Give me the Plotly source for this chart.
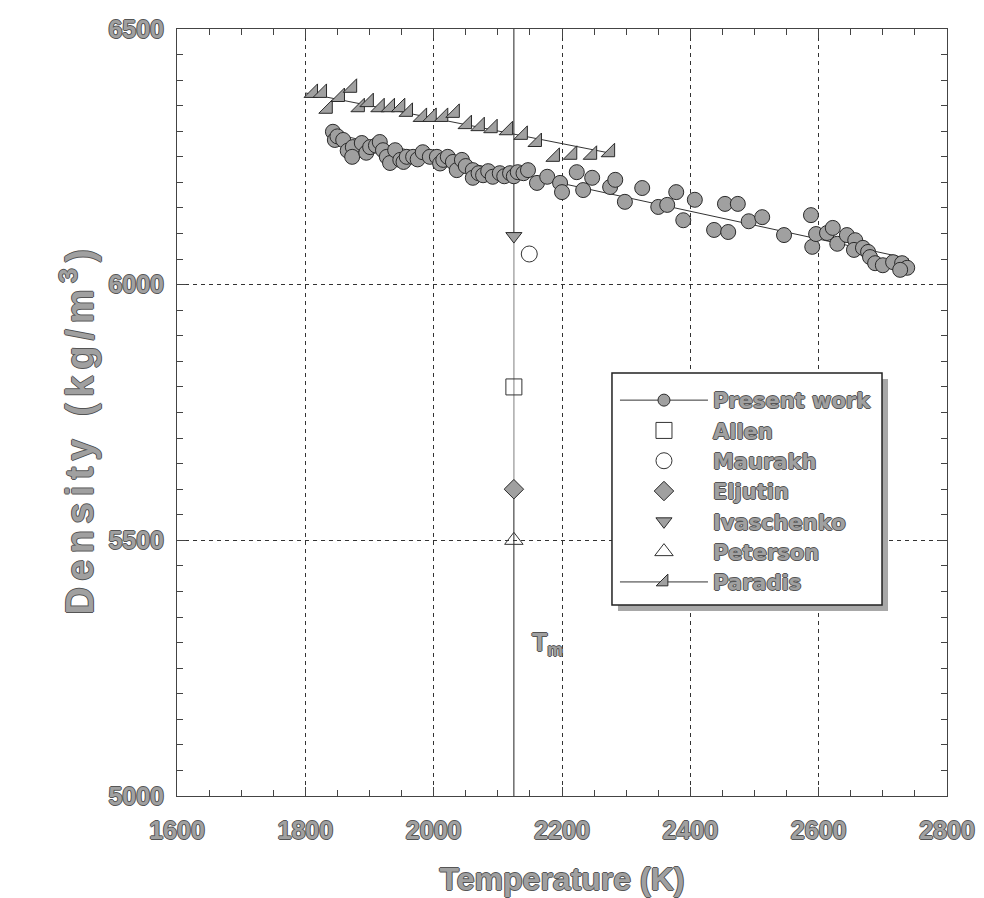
import plotly.graph_objects as go

# Liquid density versus temperature
present_T = [1843, 1846, 1850, 1859, 1866, 1874, 1873, 1888, 1895, 1901, 1910, 1916, 1921,
             1927, 1932, 1940, 1948, 1953, 1958, 1968, 1975, 1983, 1994, 2005, 2010, 2015,
             2022, 2030, 2036, 2044, 2050, 2061, 2061, 2070, 2077, 2085, 2092, 2103, 2110,
             2119, 2125, 2131, 2140, 2147, 2161, 2177, 2197, 2200, 2223, 2233, 2247, 2275,
             2283, 2298, 2325, 2350, 2364, 2378, 2389, 2407, 2437, 2454, 2459, 2474, 2491,
             2512, 2546, 2588, 2590, 2596, 2613, 2622, 2629, 2644, 2657, 2655, 2669, 2677,
             2680, 2688, 2700, 2716, 2730, 2738, 2727]
present_rho = [6299, 6283, 6290, 6283, 6262, 6269, 6250, 6277, 6258, 6269, 6272, 6279, 6263,
               6250, 6238, 6263, 6244, 6240, 6250, 6250, 6245, 6259, 6250, 6250, 6237, 6244,
               6250, 6240, 6224, 6244, 6232, 6224, 6209, 6218, 6214, 6222, 6211, 6218, 6212,
               6218, 6212, 6220, 6218, 6224, 6199, 6211, 6199, 6181, 6220, 6185, 6209, 6191,
               6205, 6162, 6189, 6152, 6156, 6181, 6126, 6166, 6107, 6158, 6103, 6158, 6124,
               6132, 6097, 6136, 6074, 6099, 6101, 6111, 6080, 6097, 6087, 6068, 6072, 6064,
               6054, 6042, 6038, 6044, 6042, 6033, 6029]
present_fit_T = [1840, 2740]
present_fit_rho = [6296, 6051]

paradis_T = [1812, 1826, 1835, 1854, 1873, 1885, 1899, 1916, 1932, 1948, 1960, 1982, 1997,
             2015, 2033, 2052, 2072, 2092, 2116, 2139, 2161, 2189, 2216, 2247, 2275]
paradis_rho = [6375, 6375, 6344, 6367, 6385, 6347, 6357, 6347, 6347, 6347, 6338, 6328, 6328,
               6328, 6336, 6314, 6310, 6306, 6302, 6293, 6279, 6250, 6254, 6254, 6259]
paradis_fit_T = [1800, 2280]
paradis_fit_rho = [6375, 6256]

T_melt = 2125
allen = (2125, 5800)
maurakh = (2149, 6060)
eljutin = (2125, 5600)
ivaschenko = (2125, 6095)
peterson = (2125, 5500)

x_ticks = [1600, 1800, 2000, 2200, 2400, 2600, 2800]
y_ticks = [5000, 5500, 6000, 6500]

FONT = "Liberation Sans, Arial, sans-serif"
WIDE = "DejaVu Sans, Verdana, sans-serif"
OUTLINE = "1px 0 0 #555, -1px 0 0 #555, 0 1px 0 #555, 0 -1px 0 #555"
FILL = "#a0a0a0"
EDGE = "#2a2a2a"
GAP = "\u2006"  # six-per-em space used to letter-space the vertical title

fig = go.Figure()

# fitted lines
fig.add_trace(go.Scatter(x=present_fit_T, y=present_fit_rho, mode="lines",
                         line=dict(color="#333", width=1), showlegend=False,
                         hoverinfo="skip"))
fig.add_trace(go.Scatter(x=paradis_fit_T, y=paradis_fit_rho, mode="lines",
                         line=dict(color="#333", width=1), showlegend=False,
                         hoverinfo="skip"))

# melting point line
fig.add_shape(type="line", x0=T_melt, x1=T_melt, y0=ivaschenko[1], y1=6500,
              line=dict(color="#222", width=1), layer="below")
fig.add_shape(type="line", x0=T_melt, x1=T_melt, y0=eljutin[1], y1=ivaschenko[1],
              line=dict(color="#aaa", width=1.5), layer="below")
fig.add_shape(type="line", x0=T_melt, x1=T_melt, y0=5000, y1=eljutin[1],
              line=dict(color="#222", width=1), layer="below")

# data points
fig.add_trace(go.Scatter(x=present_T, y=present_rho, mode="markers", showlegend=False,
                         marker=dict(symbol="circle", size=15, color=FILL,
                                     line=dict(color=EDGE, width=1))))
fig.add_trace(go.Scatter(x=paradis_T, y=paradis_rho, mode="markers", showlegend=False,
                         marker=dict(symbol="triangle-se", size=15, color=FILL,
                                     line=dict(color=EDGE, width=1))))

# legend entry for the present work (line + marker)
fig.add_trace(go.Scatter(x=[None], y=[None], mode="lines+markers", name="Present work",
                         line=dict(color="#333", width=1),
                         marker=dict(symbol="circle", size=12, color=FILL,
                                     line=dict(color=EDGE, width=1))))
fig.add_trace(go.Scatter(x=[allen[0]], y=[allen[1]], mode="markers", name="Allen",
                         marker=dict(symbol="square-open", size=16, color="#333",
                                     line=dict(width=1))))
fig.add_trace(go.Scatter(x=[maurakh[0]], y=[maurakh[1]], mode="markers", name="Maurakh",
                         marker=dict(symbol="circle-open", size=16, color="#333",
                                     line=dict(width=1))))
fig.add_trace(go.Scatter(x=[eljutin[0]], y=[eljutin[1]], mode="markers", name="Eljutin",
                         marker=dict(symbol="diamond", size=15, color=FILL,
                                     line=dict(color=EDGE, width=1))))
fig.add_trace(go.Scatter(x=[ivaschenko[0]], y=[ivaschenko[1]], mode="markers",
                         name="Ivaschenko",
                         marker=dict(symbol="triangle-down", size=14, color=FILL,
                                     line=dict(color=EDGE, width=1))))
fig.add_trace(go.Scatter(x=[peterson[0]], y=[peterson[1]], mode="markers", name="Peterson",
                         marker=dict(symbol="triangle-up-open", size=16, color="#333",
                                     line=dict(width=1))))
fig.add_trace(go.Scatter(x=[None], y=[None], mode="lines+markers", name="Paradis",
                         line=dict(color="#333", width=1),
                         marker=dict(symbol="triangle-se", size=13, color=FILL,
                                     line=dict(color=EDGE, width=1))))

# Tm label
fig.add_annotation(x=2178, y=5298, text="T<sub>m</sub>", showarrow=False,
                   font=dict(family=FONT, size=25, color=FILL, weight="bold",
                             shadow=OUTLINE))

# y-axis title, rotated and letter-spaced
y_title = GAP.join("Density (kg/m") + GAP + "<sup>3</sup>" + GAP + ")"
fig.add_annotation(xref="paper", yref="paper", x=0, y=0.5, xshift=-100, yshift=-20,
                   text=y_title, textangle=-90, showarrow=False,
                   xanchor="center", yanchor="middle",
                   font=dict(family=FONT, size=38, color=FILL, weight="bold",
                             shadow=OUTLINE))

# legend frame with drop shadow
fig.add_shape(type="rect", xref="paper", yref="paper",
              x0=0.5727, x1=0.9234, y0=0.2412, y1=0.5437,
              fillcolor="#a8a8a8", line=dict(width=0), layer="above")
fig.add_shape(type="rect", xref="paper", yref="paper",
              x0=0.5649, x1=0.9156, y0=0.2490, y1=0.5515,
              fillcolor="white", line=dict(color="#222", width=1.5), layer="above")

axis_common = dict(
    showline=True, linecolor="#444", linewidth=1, mirror="ticks",
    ticks="inside", ticklen=9, tickcolor="#444", tickwidth=1,
    showgrid=True, gridcolor="#333", gridwidth=1, griddash="4px,4px",
    zeroline=False, automargin=False,
    tickfont=dict(family=FONT, size=25, color=FILL, weight="bold", shadow=OUTLINE),
    minor=dict(ticks="inside", ticklen=6, tickcolor="#444", dtick=50, showgrid=False),
)

fig.update_xaxes(range=[1600, 2800], tickvals=x_ticks, ticklabelstandoff=12,
                 **axis_common,
                 title=dict(text="Temperature (K)", standoff=24,
                            font=dict(family=FONT, size=32, color=FILL, weight="bold",
                                      shadow=OUTLINE)))
fig.update_yaxes(range=[5000, 6500], tickvals=y_ticks, ticklabelstandoff=7,
                 **axis_common)

fig.update_layout(
    width=984, height=898,
    margin=dict(l=177, r=37, t=29, b=102),
    paper_bgcolor="white", plot_bgcolor="white",
    showlegend=True,
    legend=dict(x=0.5688, y=0.5424, xanchor="left", yanchor="top",
                bgcolor="rgba(0,0,0,0)", borderwidth=0,
                itemwidth=88, tracegroupgap=0,
                font=dict(family=WIDE, size=21, color=FILL, weight="bold",
                          shadow=OUTLINE)),
)

fig.write_html("out.html")
